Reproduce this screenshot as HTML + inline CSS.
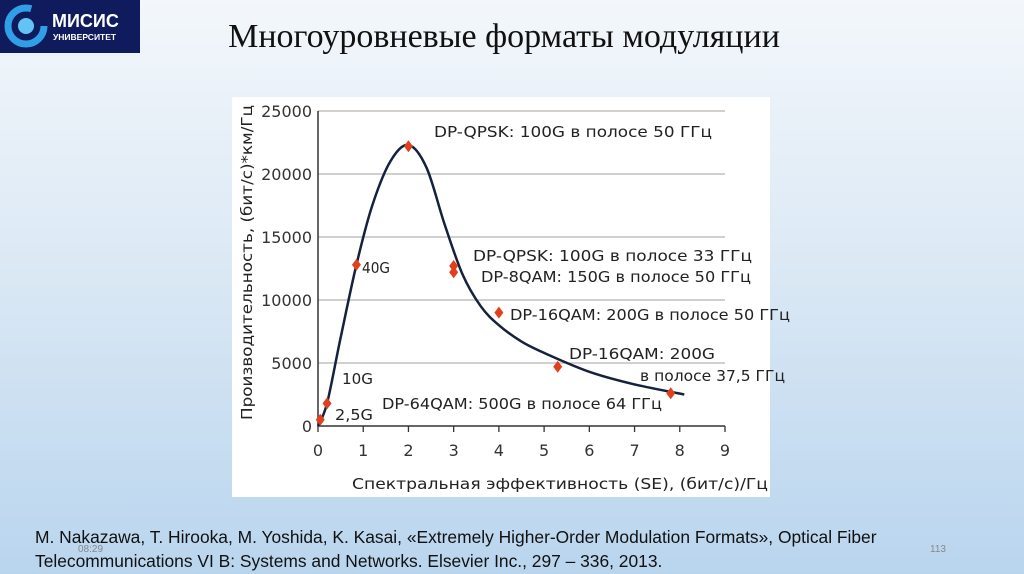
<!DOCTYPE html>
<html><head><meta charset="utf-8"><style>
html,body{margin:0;padding:0}
body{width:1024px;height:574px;overflow:hidden;position:relative;background:linear-gradient(#f3f7fb 0%,#dce9f5 45%,#b9d5ee 100%);font-family:"Liberation Sans","DejaVu Sans",sans-serif}
#logo{position:absolute;left:0;top:0;width:140px;height:53px;background:#0f1b5c}
#title{position:absolute;left:0;width:1008px;top:18px;text-align:center;font-family:"Liberation Serif",serif;font-size:34px;color:#111}
#chartbox{position:absolute;left:232px;top:97px;width:538px;height:400px;background:#fff;overflow:visible}
.foot{position:absolute;left:35px;font-size:17.4px;color:#111}
</style></head><body>
<div id="logo">
<svg width="140" height="53">
<circle cx="26" cy="26" r="18" fill="none" stroke="#2f9fe8" stroke-width="7" stroke-dasharray="90 23"/>
<circle cx="26" cy="26" r="8" fill="#62c3f5"/>
<text x="52" y="27" fill="#fff" font-size="18" font-weight="bold" font-family="Liberation Sans, sans-serif">МИСИС</text>
<text x="53" y="40" fill="#fff" font-size="8.5" font-weight="bold" font-family="Liberation Sans, sans-serif">УНИВЕРСИТЕТ</text>
</svg></div>
<div id="title">Многоуровневые форматы модуляции</div>
<svg id="chartbox" width="538" height="400" viewBox="232 97 538 400" font-family="DejaVu Sans, sans-serif"></svg>
<div class="foot" style="top:527px">M. Nakazawa, T. Hirooka, M. Yoshida, K. Kasai, «Extremely Higher-Order Modulation Formats», Optical Fiber</div>
<div class="foot" style="top:551px">Telecommunications VI B: Systems and Networks. Elsevier Inc., 297 – 336, 2013.</div>
<div style="position:absolute;left:78px;top:544px;font-size:10px;color:#888">08:29</div>
<div style="position:absolute;left:930px;top:544px;font-size:10px;color:#888">113</div>
<script>
const xTicks=[0,1,2,3,4,5,6,7,8,9];
const yTicks=[0,5000,10000,15000,20000,25000];
const pointX=[0.05,0.2,0.85,2,3,3,4,5.3,7.8];
const pointY=[500,1800,12800,22200,12700,12200,9000,4700,2600];
const curveX=[0,0.2,0.5,0.85,1.2,1.6,2,2.4,2.8,3.2,3.6,4,4.5,5,6,7,8.1];
const curveY=[0,1800,7000,12800,17500,21000,22300,20500,16000,12000,9500,8000,6700,5800,4300,3300,2500];
const labels=[["DP-QPSK: 100G в полосе 50 ГГц",434,137,278],["40G",362,273,28],["DP-QPSK: 100G в полосе 33 ГГц",473,261,279],["DP-8QAM: 150G в полосе 50 ГГц",481,282,270],["DP-16QAM: 200G в полосе 50 ГГц",510,320,280],["DP-16QAM: 200G",569,359,146],["в полосе 37,5 ГГц",640,381,145],["10G",342,384,31],["DP-64QAM: 500G в полосе 64 ГГц",382,409,280],["2,5G",335,420,38]];
const NS="http://www.w3.org/2000/svg";
const svg=document.getElementById('chartbox');
const X=v=>318+v*(725-318)/9;
const Y=v=>426-v*(426-111)/25000;
function mk(t,a){const e=document.createElementNS(NS,t);for(const k in a)e.setAttribute(k,a[k]);svg.appendChild(e);return e;}
yTicks.forEach(v=>{
 if(v>0){const g=mk('line',{x1:318,x2:725,y1:Y(v),y2:Y(v),stroke:'#b5b5b5','stroke-width':1.3});
 
 }
 const t=mk('text',{x:312,y:Y(v)+6,'text-anchor':'end','font-size':16,fill:'#333'});t.textContent=v;
 
 
});
xTicks.forEach(v=>{
 const l=mk('line',{x1:X(v),x2:X(v),y1:426,y2:432,stroke:'#333','stroke-width':1.3});
 
 
 const t=mk('text',{x:X(v),y:456,'text-anchor':'middle','font-size':16,fill:'#333'});t.textContent=v;
 
 
});
const ax=mk('path',{d:`M318 ${Y(25000)} V426 H725`,fill:'none',stroke:'#333','stroke-width':1.5});


const pts=curveX.map((x,i)=>[X(x),Y(curveY[i])]);
let d=`M${pts[0][0]} ${pts[0][1]}`;
for(let i=0;i<pts.length-1;i++){const p0=pts[Math.max(0,i-1)],p1=pts[i],p2=pts[i+1],p3=pts[Math.min(pts.length-1,i+2)];
 d+=` C${p1[0]+(p2[0]-p0[0])/6} ${p1[1]+(p2[1]-p0[1])/6} ${p2[0]-(p3[0]-p1[0])/6} ${p2[1]-(p3[1]-p1[1])/6} ${p2[0]} ${p2[1]}`;}
const c=mk('path',{d,fill:'none',stroke:'#16213d','stroke-width':2.5});


pointX.forEach((x,i)=>{const cx=X(x),cy=Y(pointY[i]);
 const p=mk('polygon',{points:`${cx},${cy-6} ${cx+4.5},${cy} ${cx},${cy+6} ${cx-4.5},${cy}`,fill:'#e0401e'});
 
 });
labels.forEach(l=>{const t=mk('text',{x:l[1],y:l[2],'font-size':15,fill:'#222',textLength:l[3],lengthAdjust:'spacingAndGlyphs'});t.textContent=l[0];
 
 });
const xt=mk('text',{x:352,y:489,'font-size':15.5,fill:'#222',textLength:416,lengthAdjust:'spacingAndGlyphs'});xt.textContent='Спектральная эффективность (SE), (бит/с)/Гц';


const yt=mk('text',{x:-420,y:252,'font-size':15.5,fill:'#222',transform:'rotate(-90)',textLength:315,lengthAdjust:'spacingAndGlyphs'});yt.textContent='Производительность, (бит/с)*км/Гц';


</script>
</body></html>
